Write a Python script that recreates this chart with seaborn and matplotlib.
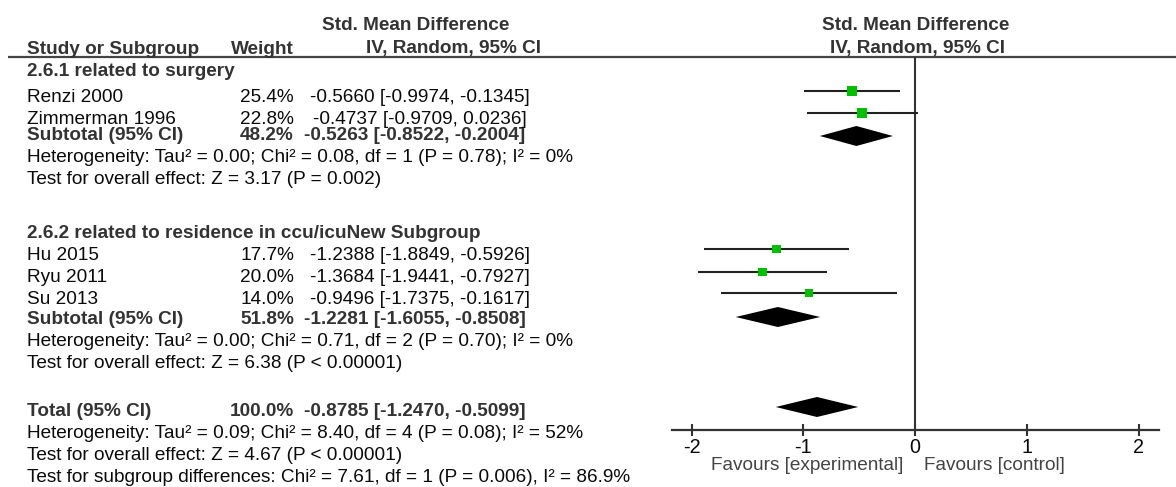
import numpy as np
import pandas as pd
import matplotlib
matplotlib.use("Agg")
import matplotlib.pyplot as plt
import seaborn as sns

# ---------------- data ----------------
studies = ["Renzi 2000", "Zimmerman 1996", "Hu 2015", "Ryu 2011", "Su 2013"]
study_group = [0, 0, 1, 1, 1]
weights = [25.4, 22.8, 17.7, 20.0, 14.0]
smd = [-0.5660, -0.4737, -1.2388, -1.3684, -0.9496]
ci_lo = [-0.9974, -0.9709, -1.8849, -1.9441, -1.7375]
ci_hi = [-0.1345, 0.0236, -0.5926, -0.7927, -0.1617]

subgroups = ["2.6.1 related to surgery",
             "2.6.2 related to residence in ccu/icuNew Subgroup"]
sub_weight = [48.2, 51.8]
sub_est = [-0.5263, -1.2281]
sub_lo = [-0.8522, -1.6055]
sub_hi = [-0.2004, -0.8508]
sub_het = ["Heterogeneity: Tau² = 0.00; Chi² = 0.08, df = 1 (P = 0.78); I² = 0%",
           "Heterogeneity: Tau² = 0.00; Chi² = 0.71, df = 2 (P = 0.70); I² = 0%"]
sub_test = ["Test for overall effect: Z = 3.17 (P = 0.002)",
            "Test for overall effect: Z = 6.38 (P < 0.00001)"]

total_weight = 100.0
total_est = -0.8785
total_lo = -1.2470
total_hi = -0.5099
total_het = "Heterogeneity: Tau² = 0.09; Chi² = 8.40, df = 4 (P = 0.08); I² = 52%"
total_test = "Test for overall effect: Z = 4.67 (P < 0.00001)"
subgroup_diff = "Test for subgroup differences: Chi² = 7.61, df = 1 (P = 0.006), I² = 86.9%"

x_ticks = [-2, -1, 0, 1, 2]
favours_left = "Favours [experimental]"
favours_right = "Favours [control]"

# ---------------- layout (pixel rows from top) ----------------
W, H = 1176, 487
DY = 2  # small text offset
study_line_y = [91, 113, 249, 272, 293]
study_text_y = [96, 118, 253, 276, 298]
group_head_y = [70, 231]
sub_diamond_y = [136, 317]
sub_text_y = [133, 318]
sub_het_y = [155, 340]
sub_test_y = [177, 362]
total_diamond_y = 407
total_text_y = 410
total_het_y = 432
total_test_y = 453
subdiff_y = 475
diamond_half_h = 10

FS = 13.7
sns.set_theme(style="white")
plt.rcParams["font.family"] = ["Liberation Sans", "DejaVu Sans"]

fig = plt.figure(figsize=(W / 100, H / 100), dpi=100)

# background axes in pixel coordinates for table text
bg = fig.add_axes([0, 0, 1, 1])
bg.set_xlim(0, W)
bg.set_ylim(H, 0)
bg.axis("off")

# forest axes
ax_left_px, ax_right_px = 672, 1159
ax_top_px, ax_bot_px = 57, 430
ax = fig.add_axes([ax_left_px / W, 1 - ax_bot_px / H,
                   (ax_right_px - ax_left_px) / W, (ax_bot_px - ax_top_px) / H])
ax.set_xlim(-2.175, 2.18)
ax.set_ylim(ax_bot_px, ax_top_px)

dark = "#333333"
txt = "#0a0a0a"


def t(x, y, s, bold=False, ha="left", color=None):
    bg.text(x, y + DY, s, fontsize=FS, fontweight="bold" if bold else "normal",
            color=color or (dark if bold else txt), va="center", ha=ha)


# header
t(27, 47, "Study or Subgroup", bold=True)
t(294, 47, "Weight", bold=True, ha="right")
t(416, 24, "Std. Mean Difference", bold=True, ha="center")
t(453, 47, "IV, Random, 95% CI", bold=True, ha="center")
t(916, 24, "Std. Mean Difference", bold=True, ha="center")
t(918, 47, "IV, Random, 95% CI", bold=True, ha="center")
bg.plot([8, W], [57, 57], color="#444444", lw=1.6, solid_capstyle="butt")

EST_X = 420
for g, name in enumerate(subgroups):
    t(27, group_head_y[g], name, bold=True)
    t(27, sub_text_y[g], "Subtotal (95% CI)", bold=True)
    t(294, sub_text_y[g], f"{sub_weight[g]:.1f}%", bold=True, ha="right")
    t(EST_X - 5, sub_text_y[g], f"{sub_est[g]:.4f} [{sub_lo[g]:.4f}, {sub_hi[g]:.4f}]",
      bold=True, ha="center")
    t(27, sub_het_y[g], sub_het[g])
    t(27, sub_test_y[g], sub_test[g])

for i, s in enumerate(studies):
    y = study_text_y[i]
    t(27, y, s)
    t(294, y, f"{weights[i]:.1f}%", ha="right")
    t(EST_X, y, f"{smd[i]:.4f} [{ci_lo[i]:.4f}, {ci_hi[i]:.4f}]", ha="center")

t(27, total_text_y, "Total (95% CI)", bold=True)
t(294, total_text_y, f"{total_weight:.1f}%", bold=True, ha="right")
t(EST_X - 5, total_text_y, f"{total_est:.4f} [{total_lo:.4f}, {total_hi:.4f}]",
  bold=True, ha="center")
t(27, total_het_y, total_het)
t(27, total_test_y, total_test)
t(27, subdiff_y, subgroup_diff)

# ---------------- forest plot ----------------
ax.axvline(0, color="#333333", lw=1.5, zorder=1)
ax.hlines(study_line_y, ci_lo, ci_hi, color="#222222", lw=1.5, zorder=2)

df = pd.DataFrame({"study": studies, "smd": smd, "y": study_line_y, "w": weights})
side_pt = 2.0 * np.sqrt(df["w"]) * 0.72
df["area"] = side_pt ** 2
sns.scatterplot(data=df, x="smd", y="y", marker="s", s=df["area"].values, color="#00c000",
                edgecolor="none", linewidth=0, ax=ax, zorder=3, legend=False)


def diamond(est, lo, hi, yc):
    ax.fill([lo, est, hi, est], [yc, yc - diamond_half_h, yc, yc + diamond_half_h],
            color="black", lw=0, zorder=3)


for g in range(len(subgroups)):
    diamond(sub_est[g], sub_lo[g], sub_hi[g], sub_diamond_y[g])
diamond(total_est, total_lo, total_hi, total_diamond_y)

ax.set_xticks(x_ticks)
ax.set_xticklabels([str(v) for v in x_ticks], fontsize=FS + 0.5, color=txt)
ax.set_yticks([])
ax.set_xlabel("")
ax.set_ylabel("")
for sp in ["top", "left", "right"]:
    ax.spines[sp].set_visible(False)
ax.spines["bottom"].set_color("#333333")
ax.spines["bottom"].set_linewidth(1.6)
ax.tick_params(axis="x", direction="inout", length=9, width=1.5, color="#333333", pad=1,
               bottom=True)
ax.patch.set_alpha(0)

bg.text(903, 465, favours_left, fontsize=FS, color="#444444", va="center", ha="right")
bg.text(924, 465, favours_right, fontsize=FS, color="#444444", va="center", ha="left")

fig.savefig("out.png", dpi=100)
